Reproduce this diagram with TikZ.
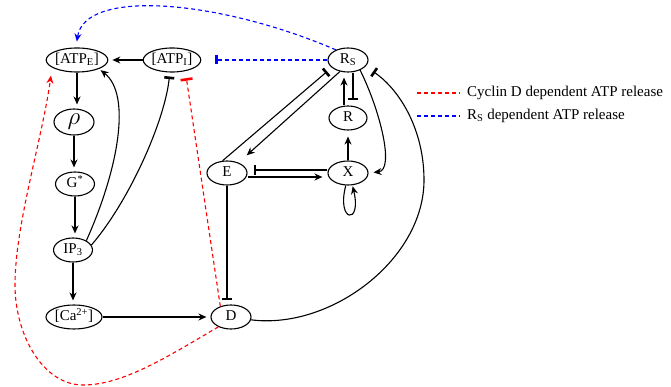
\documentclass[tikz,border=0pt]{standalone}
\usepackage{fontspec}
\setmainfont{Liberation Serif}
\usetikzlibrary{shapes.geometric,arrows.meta}
\definecolor{dred}{RGB}{255,0,0}
\definecolor{dblue}{RGB}{0,0,255}
\begin{document}
\begin{tikzpicture}[x=1pt,y=-1pt,
  every node/.style={font=\fontsize{15}{17}\selectfont},
  st/.style={ellipse,draw,line width=1.1pt,inner sep=0pt,minimum height=24pt,text height=10.5pt,text depth=3pt},
  conn/.style={line width=1.1pt},
  arr/.style={conn,-{Stealth[length=8pt,width=7pt]},shorten >=4pt},
  inh/.style={conn,-{Bar[width=10pt,line width=2.6pt]},shorten >=4pt},
  rdash/.style={draw=dred,line width=1.1pt,dash pattern=on 4pt off 3pt},
  bdash/.style={draw=dblue,line width=1.1pt,dash pattern=on 4pt off 3pt},
  legtext/.style={anchor=west,inner sep=0pt}
]
\useasboundingbox (0,0) rectangle (671,387);

% nodes
\node[st,minimum width=61pt] (ATPE) at (77,60) {[ATP\textsubscript{E}]};
\node[st,minimum width=52pt] (ATPI) at (172,60) {[ATP\textsubscript{I}]};
\node[st,minimum width=40pt] (RS) at (348,60) {R\textsubscript{S}};
\node[st,minimum width=40pt,minimum height=26pt,text height=10pt,text depth=5pt,font=\fontsize{24}{24}\selectfont] (rho) at (74,122) {$\rho$};
\node[st,minimum width=39pt] (G) at (75,184) {G\textsuperscript{*}};
\node[st,minimum width=39pt] (IP) at (73,250) {IP\textsubscript{3}};
\node[st,minimum width=56pt] (Ca) at (74,317) {[Ca\textsuperscript{2+}]};
\node[st,minimum width=40pt] (D) at (231,317) {D};
\node[st,minimum width=40pt] (E) at (227,173) {E};
\node[st,minimum width=40pt] (X) at (348,173) {X};
\node[st,minimum width=38pt] (R) at (348,118) {R};

% left column
\draw[arr] (ATPI) -- (ATPE);
\draw[arr] (ATPE.south) -- (ATPE.south |- rho.north);
\draw[arr] (rho.south) -- (rho.south |- G.north);
\draw[arr] (G.south) -- (G.south |- IP.north);
\draw[arr] (IP.south) -- (IP.south |- Ca.north);
\draw[arr] (Ca) -- (D);

% IP3 feedbacks
\draw[arr,shorten >=2pt] (IP.35) .. controls (118,170) and (132,95) .. (ATPE.-22);
\draw[inh] (IP.15) .. controls (130,200) and (165,120) .. (ATPI.-100);

% right block
\draw[inh,shorten >=6pt] (E.110) -- (RS.205);
\draw[arr,shorten >=11pt] (RS.235) -- (E);
\draw[arr,shorten >=5pt] ([xshift=-4pt]R.north) -- ([xshift=-4pt]R.north |- RS.south);
\draw[inh,shorten >=5pt] ([xshift=5pt]RS.south) -- ([xshift=5pt]RS.south |- R.north);
\draw[arr,shorten >=6pt] (X.north) -- (R.south);
\draw[inh,shorten >=6pt] ([yshift=3pt]X.west) -- ([yshift=3pt]X.west -| E.east);
\draw[arr,shorten >=5pt] ([yshift=-4pt]E.east) -- ([yshift=-4pt]E.east -| X.west);
\draw[arr,shorten >=1pt] (X.-100) .. controls (336,222) and (362,226) .. (X.-70);
\draw[arr,shorten >=5pt] (RS.-40) .. controls (380,110) and (395,170) .. (X.east);
\draw[inh,shorten >=4pt] (E.south) -- (E.south |- D.north);
\draw[inh,shorten >=9pt] (D.-8) .. controls (330,330) and (424,260) .. (424,180)
   .. controls (424,130) and (400,90) .. (RS.-20);

% blue dashed (R_S dependent)
\draw[bdash,-{Bar[width=9pt,line width=2.6pt]},shorten >=14pt] (RS.west) -- (ATPI.east);
\draw[bdash,-{Stealth[length=8pt,width=7pt]},shorten >=6pt] (RS.140) .. controls (220,0) and (85,-12) .. (ATPE.95);

% red dashed (Cyclin D dependent)
\draw[rdash,-{Bar[width=12pt,line width=2.6pt]},shorten >=7pt] (D.135) -- (ATPI.-40);
\draw[rdash,-{Stealth[length=8pt,width=7pt]},shorten >=8pt] (D.218) .. controls (167,357) and (123,385) .. (83,385)
   .. controls (43,385) and (15,335) .. (15,285)
   .. controls (15,225) and (42,140) .. (ATPE.197);

% legend
\coordinate (l1a) at (417,93); \coordinate (l1b) at (460,93);
\coordinate (l2a) at (417,116); \coordinate (l2b) at (460,116);
\draw[rdash] (l1a) -- (l1b);
\draw[bdash] (l2a) -- (l2b);
\node[legtext] (t1) at (467,93) {Cyclin D dependent ATP release};
\node[legtext] (t2) at (467,116) {R\textsubscript{S} dependent ATP release};
\end{tikzpicture}
\end{document}
